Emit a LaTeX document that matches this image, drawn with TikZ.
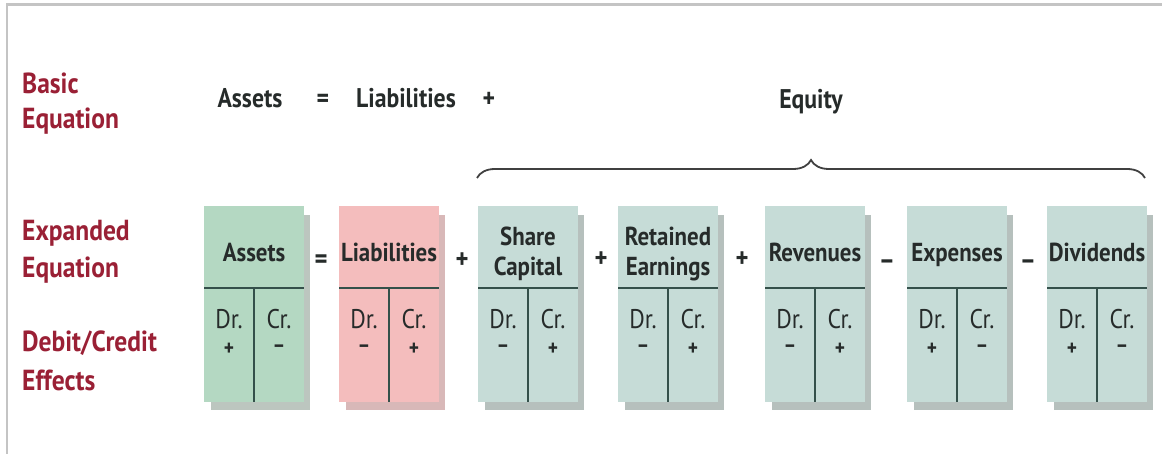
\documentclass[tikz,border=0pt]{standalone}
\usepackage{fontspec}
\setmainfont[FakeStretch=0.88]{PT Sans}
\usetikzlibrary{decorations.pathreplacing}
\definecolor{lblred}{HTML}{9A2035}
\definecolor{grn}{HTML}{B4D8C2}
\definecolor{grnsh}{HTML}{BCC6BF}
\definecolor{pnk}{HTML}{F4BDBD}
\definecolor{pnksh}{HTML}{D8B8B8}
\definecolor{gry}{HTML}{C6DCD7}
\definecolor{grysh}{HTML}{B6C0BD}
\definecolor{tline}{HTML}{34504A}
\definecolor{txt}{HTML}{262B2A}
\definecolor{frame}{HTML}{C4C4C4}
\newcommand\drawacct[8]{%
  \fill[#4] ({#2+7},215) rectangle ({#2+106},410);
  \node[tbox, fill=#3] (#1) at ({#2+50},304) {};
  \node[thead, anchor=#5] (#1-head) at ({#2+50},#6) {#7};
  \draw[tline] ({#2},288) -- ({#2+100},288);
  \draw[tline] ({#2+50},288) -- ({#2+50},402);
  \node[dc] (#1-dr) at ({#2+25},329) {Dr.};
  \node[dc] (#1-cr) at ({#2+75},329) {Cr.};
  #8
}
\begin{document}
\begin{tikzpicture}[x=1pt,y=-1pt,
  tbox/.style={minimum width=100pt, minimum height=196pt, inner sep=0pt, draw=none},
  thead/.style={font=\fontsize{26}{30}\selectfont\bfseries, text=txt, align=center, inner sep=0pt},
  tline/.style={draw=tline, line width=1.8pt},
  dc/.style={font=\fontsize{27}{28}\selectfont, text=txt, anchor=base, inner sep=0pt},
  sgn/.style={font=\fontsize{22}{24}\selectfont\bfseries, text=txt, inner sep=0pt},
  op/.style={font=\fontsize{28}{30}\selectfont\bfseries, text=txt, inner sep=0pt},
  top/.style={font=\fontsize{27}{30}\selectfont\bfseries, text=txt, anchor=base, inner sep=0pt},
  lbl/.style={font=\fontsize{29}{32}\selectfont\bfseries, text=lblred, anchor=base west, inner sep=0pt},
  bracestyle/.style={decorate, decoration={brace, amplitude=18pt}, draw=black!75, line width=1.8pt}
]
\useasboundingbox (0,0) rectangle (1162,454);
\fill[white] (0,0) rectangle (1162,454);
% frame
\draw[frame, line width=3pt] (6,5) -- (1162,5);
\draw[frame, line width=2pt] (7,5) -- (7,454);

% left labels
\node[lbl] (l1a) at (22,94) {Basic};
\node[lbl] (l1b) at (22,129) {Equation};
\node[lbl] (l2a) at (22,241) {Expanded};
\node[lbl] (l2b) at (22,278) {Equation};
\node[lbl] (l3a) at (22,352) {Debit/Credit};
\node[lbl] (l3b) at (22,390) {Effects};

% basic equation
\node[top] (tA) at (250,108) {Assets};
\node[top] (tEq) at (323,108) {=};
\node[top] (tL) at (406,108) {Liabilities};
\node[top] (tP) at (489,108) {+};
\node[top] (tE) at (811,109) {Equity};
\coordinate (bl) at (477,178);
\coordinate (br) at (1145,178);
\draw[bracestyle] (bl) -- (br);

% accounts
\drawacct{assets}{204}{grn}{grnsh}{base}{262}{Assets}{\node[sgn] (assets-s1) at (229,349) {+}; \node[sgn] (assets-s2) at (279,349) {–};}
\drawacct{liab}{339}{pnk}{pnksh}{base}{262}{Liabilities}{\node[sgn] (liab-s1) at (364,349) {–}; \node[sgn] (liab-s2) at (414,349) {+};}
\drawacct{share}{478}{gry}{grysh}{center}{254}{Share\\Capital}{\node[sgn] (share-s1) at (503,349) {–}; \node[sgn] (share-s2) at (553,349) {+};}
\drawacct{ret}{618}{gry}{grysh}{center}{254}{Retained\\Earnings}{\node[sgn] (ret-s1) at (643,349) {–}; \node[sgn] (ret-s2) at (693,349) {+};}
\drawacct{rev}{765}{gry}{grysh}{base}{262}{Revenues}{\node[sgn] (rev-s1) at (790,349) {–}; \node[sgn] (rev-s2) at (840,349) {+};}
\drawacct{exp}{907}{gry}{grysh}{base}{262}{Expenses}{\node[sgn] (exp-s1) at (932,349) {+}; \node[sgn] (exp-s2) at (982,349) {–};}
\drawacct{div}{1047}{gry}{grysh}{base}{262}{Dividends}{\node[sgn] (div-s1) at (1072,349) {+}; \node[sgn] (div-s2) at (1122,349) {–};}

% operators
\node[op] (o1) at (321,262) {=};
\node[op] (o2) at (462,261) {+};
\node[op] (o3) at (601,260) {+};
\node[op] (o4) at (742,260) {+};
\node[op] (o5) at (887,265) {–};
\node[op] (o6) at (1028,265) {–};
\end{tikzpicture}
\end{document}
